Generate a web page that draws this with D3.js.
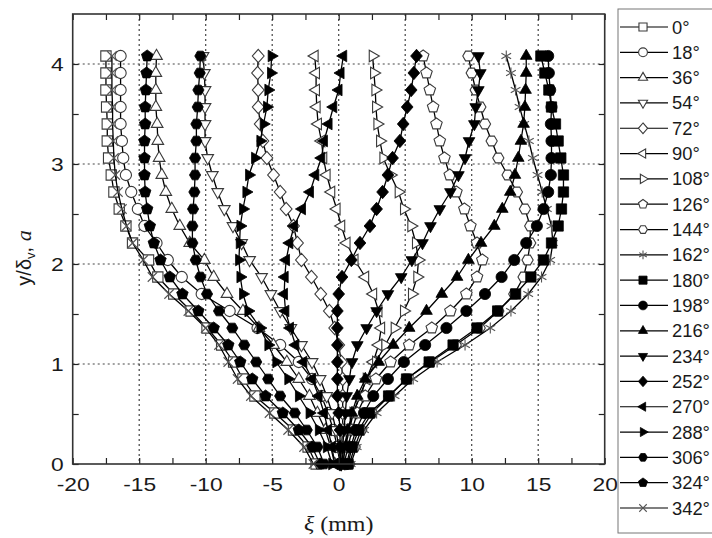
<!DOCTYPE html>
<html>
<head>
<meta charset="utf-8">
<script src="https://cdn.jsdelivr.net/npm/d3@7"></script>
<style>
  body { margin: 0; background: #fff; }
  svg { display: block; }
  text { font-family: Arial, "Liberation Sans", sans-serif; fill: #1a1a1a; }
</style>
</head>
<body>
<svg id="chart" width="712" height="538"></svg>
<script>
// heights y/δv (top to bottom) shared by every profile
const yLevels = [4.08, 3.91, 3.74, 3.57, 3.40, 3.23, 3.06, 2.89, 2.72, 2.55, 2.38, 2.21, 2.04,
                 1.87, 1.70, 1.53, 1.36, 1.19, 1.02, 0.85, 0.68, 0.51, 0.34, 0.17, 0];

// displacement ξ (mm) for each phase
const xi0   = [-17.5, -17.5, -17.5, -17.45, -17.4, -17.4, -17.3, -17.1, -16.9, -16.5, -16.0, -15.5, -14.3, -13.6, -12.4, -11.1, -9.9, -8.8, -7.9, -7.2, -6.3, -4.8, -3.4, -2.3, -1.7];
const xi18  = [-16.4, -16.4, -16.4, -16.4, -16.4, -16.3, -16.2, -16.0, -15.6, -15.1, -14.6, -13.7, -12.85, -11.8, -10.3, -8.2, -6.1, -4.4, -3.0, -2.0, -1.3, -0.8, -0.4, -0.1, 0.1];
const xi36  = [-13.7, -13.75, -13.75, -13.75, -13.65, -13.6, -13.5, -13.3, -13.0, -12.55, -11.95, -11.2, -10.1, -9.4, -8.4, -7.2, -6.0, -4.9, -3.9, -3.0, -2.2, -1.6, -1.0, -0.6, -0.3];
const xi54  = [-10.2, -10.1, -10.05, -10.05, -10.05, -10.05, -9.85, -9.5, -9.1, -8.6, -7.95, -7.3, -6.7, -5.8, -5.1, -4.4, -3.6, -2.8, -2.0, -1.4, -0.9, -0.5, -0.2, 0.0, 0.2];
const xi72  = [-6.05, -6.1, -6.05, -6.05, -5.9, -5.7, -5.4, -4.9, -4.4, -3.95, -3.4, -3.1, -2.8, -2.05, -1.35, -0.7, -0.3, 0.0, 0.2, 0.3, 0.3, 0.3, 0.3, 0.2, 0.1];
const xi90  = [-1.8, -1.7, -1.7, -1.65, -1.55, -1.3, -1.15, -0.9, -0.55, -0.15, 0.2, 0.6, 1.2, 2.0, 2.6, 3.0, 3.2, 3.0, 2.6, 2.1, 1.6, 1.1, 0.7, 0.4, 0.2];
const xi108 = [2.55, 2.65, 2.75, 2.8, 2.9, 3.1, 3.35, 3.9, 4.5, 4.9, 5.45, 5.8, 6.0, 5.9, 5.5, 4.9, 4.2, 3.5, 2.8, 2.1, 1.6, 1.1, 0.8, 0.5, 0.3];
const xi126 = [6.35, 6.6, 6.85, 7.1, 7.35, 7.6, 7.95, 8.35, 8.85, 9.45, 9.9, 10.4, 10.8, 10.4, 9.6, 8.4, 7.0, 5.3, 3.9, 2.8, 2.0, 1.4, 1.0, 0.7, 0.4];
const xi144 = [9.75, 10.0, 10.3, 10.65, 11.0, 11.5, 12.0, 12.7, 13.4, 14.0, 14.4, 14.4, 14.2, 13.9, 13.2, 12.0, 10.6, 8.8, 6.9, 5.1, 3.8, 2.5, 1.7, 1.2, 0.8];
const xi162 = [12.6, 12.95, 13.3, 13.6, 13.95, 14.3, 14.6, 14.95, 15.3, 15.65, 16.0, 16.1, 15.9, 15.25, 14.25, 12.95, 11.4, 9.5, 7.4, 5.6, 4.2, 2.85, 1.9, 1.35, 0.9];
const xi180 = [15.2, 15.5, 15.8, 16.0, 16.3, 16.5, 16.7, 16.9, 16.9, 16.75, 16.5, 16.0, 15.4, 14.45, 13.3, 11.95, 10.4, 8.6, 6.8, 5.1, 3.75, 2.3, 1.5, 1.0, 0.7];
const xi198 = [15.75, 15.8, 15.9, 16.0, 15.95, 16.0, 16.0, 15.95, 15.75, 15.4, 14.9, 14.1, 13.2, 12.25, 11.0, 9.6, 8.1, 6.5, 4.9, 3.7, 2.6, 1.9, 1.3, 0.9, 0.6];
const xi216 = [14.1, 14.1, 14.05, 14.0, 13.9, 13.7, 13.5, 13.25, 12.9, 12.3, 11.7, 10.7, 9.75, 8.9, 7.75, 6.6, 5.3, 4.1, 3.0, 2.0, 1.4, 1.0, 0.7, 0.5, 0.3];
const xi234 = [10.5, 10.65, 10.5, 10.3, 10.2, 9.8, 9.5, 9.0, 8.4, 7.6, 6.9, 6.3, 5.5, 4.7, 3.7, 2.85, 2.1, 1.4, 1.0, 0.8, 0.6, 0.5, 0.4, 0.3, 0.2];
const xi252 = [5.85, 5.65, 5.45, 5.15, 4.85, 4.6, 4.05, 3.7, 3.3, 2.85, 2.35, 1.6, 0.95, 0.25, 0.0, -0.1, -0.1, -0.1, -0.1, -0.1, -0.1, 0.0, 0.1, 0.1, 0.1];
const xi270 = [0.35, 0.15, 0.0, -0.4, -0.75, -1.1, -1.3, -1.75, -2.15, -2.75, -3.35, -3.7, -3.95, -4.05, -4.1, -4.0, -3.65, -3.25, -2.65, -2.0, -1.5, -1.1, -0.8, -0.5, -0.3];
const xi288 = [-5.05, -5.1, -5.3, -5.4, -5.65, -5.9, -6.3, -6.75, -6.95, -7.2, -7.4, -7.45, -7.5, -7.4, -7.2, -6.8, -5.9, -5.3, -4.7, -3.8, -3.0, -2.2, -1.5, -0.9, -0.5];
const xi306 = [-10.4, -10.45, -10.55, -10.6, -10.7, -10.7, -10.8, -10.8, -10.85, -10.95, -11.0, -11.0, -10.75, -10.4, -9.9, -9.0, -8.0, -7.1, -6.2, -5.3, -4.4, -3.3, -2.4, -1.6, -1.1];
const xi324 = [-14.4, -14.45, -14.5, -14.55, -14.55, -14.6, -14.6, -14.6, -14.55, -14.4, -14.2, -13.9, -13.4, -12.7, -11.75, -10.55, -9.4, -8.3, -7.4, -6.5, -5.5, -4.2, -3.0, -2.0, -1.4];
const xi342 = [-17.05, -17.05, -17.05, -17.0, -17.0, -16.95, -16.9, -16.8, -16.6, -16.3, -15.95, -15.5, -14.7, -14.0, -12.75, -11.3, -10.0, -9.0, -8.3, -7.6, -6.6, -5.2, -3.8, -2.6, -1.9];

const phaseLabels = ["0°", "18°", "36°", "54°", "72°", "90°", "108°", "126°", "144°", "162°",
                     "180°", "198°", "216°", "234°", "252°", "270°", "288°", "306°", "324°", "342°"];
const phaseSeries = [xi0, xi18, xi36, xi54, xi72, xi90, xi108, xi126, xi144, xi162,
                     xi180, xi198, xi216, xi234, xi252, xi270, xi288, xi306, xi324, xi342];

const xMajor = [-20, -15, -10, -5, 0, 5, 10, 15, 20];
const xMinor = [-17.5, -12.5, -7.5, -2.5, 2.5, 7.5, 12.5, 17.5];
const yMajor = [0, 1, 2, 3, 4];
const yMinor = [0.5, 1.5, 2.5, 3.5];

// symbol style per series
const shapes = ["square", "circle", "up", "down", "diamond", "left", "right", "pentagon", "hexagon", "star",
                "square", "circle", "up", "down", "diamond", "left", "right", "hexagon", "pentagon", "cross"];
const filled = shapes.map((s, i) => i >= 10 && i < 19);

const svg = d3.select("#chart");
const plot = { left: 72.7, right: 604.7, top: 14, bottom: 464 };
const stretch = 1.2; // the picture is a bit wider than tall

const x = d3.scaleLinear().domain([-20, 20]).range([plot.left, plot.right]);
const y = d3.scaleLinear().domain([0, 4.5]).range([plot.bottom, plot.top]);

function symbolPath(type, r) {
  const poly = (n, rad, rot) => d3.range(n).map(i => {
    const a = rot + i * 2 * Math.PI / n;
    return [rad * Math.sin(a), -rad * Math.cos(a)];
  });
  const toPath = pts => "M" + pts.map(p => p[0].toFixed(2) + "," + p[1].toFixed(2)).join("L") + "Z";
  switch (type) {
    case "square": { const s = r * 0.92; return `M${-s},${-s}H${s}V${s}H${-s}Z`; }
    case "circle": return `M${r},0A${r},${r} 0 1,1 ${-r},0A${r},${r} 0 1,1 ${r},0Z`;
    case "up": return toPath(poly(3, r * 1.2, 0));
    case "down": return toPath(poly(3, r * 1.2, Math.PI));
    case "left": return toPath(poly(3, r * 1.2, -Math.PI / 2));
    case "right": return toPath(poly(3, r * 1.2, Math.PI / 2));
    case "diamond": return `M0,${-r * 1.2}L${r * 1.05},0L0,${r * 1.2}L${-r * 1.05},0Z`;
    case "pentagon": return toPath(poly(5, r * 1.08, 0));
    case "hexagon": return toPath(poly(6, r, Math.PI / 6));
    case "star": {
      const c = r * Math.cos(Math.PI / 6), s = r * 0.5;
      return `M0,${-r}V${r}M${-c},${-s}L${c},${s}M${-c},${s}L${c},${-s}`;
    }
    case "cross": { const s = r * 0.85; return `M${-s},${-s}L${s},${s}M${-s},${s}L${s},${-s}`; }
  }
}

function styleMarker(sel, i) {
  const t = shapes[i];
  if (t === "star" || t === "cross") {
    sel.attr("fill", "none").attr("stroke", "#555").attr("stroke-width", 1.1);
  } else if (filled[i]) {
    sel.attr("fill", "#000").attr("stroke", "#000").attr("stroke-width", 0.8);
  } else {
    sel.attr("fill", "#fff").attr("stroke", "#3a3a3a").attr("stroke-width", 1.1);
  }
}

// grid
const grid = svg.append("g").attr("stroke", "#444").attr("stroke-width", 1.2).attr("stroke-dasharray", "2,3");
grid.selectAll("line.gx").data([-15, -10, -5, 0, 5, 10, 15]).join("line")
  .attr("x1", d => x(d)).attr("x2", d => x(d)).attr("y1", plot.top).attr("y2", plot.bottom);
grid.selectAll("line.gy").data([1, 2, 3, 4]).join("line")
  .attr("x1", plot.left).attr("x2", plot.right).attr("y1", d => y(d)).attr("y2", d => y(d));

// profiles
const lineGen = d3.line().x(d => x(d[0])).y(d => y(d[1]));
const series = svg.append("g");
phaseSeries.forEach((vals, i) => {
  const pts = vals.map((v, k) => [v, yLevels[k]]);
  const g = series.append("g");
  g.append("path").attr("d", lineGen(pts)).attr("fill", "none").attr("stroke", "#000").attr("stroke-width", 1.3);
  g.selectAll("path.m").data(pts).join("path").attr("class", "m")
    .attr("transform", d => `translate(${x(d[0])},${y(d[1])})`)
    .attr("d", symbolPath(shapes[i], 5.6))
    .call(styleMarker, i);
});

// axes with inward ticks
function tidy(g) {
  g.select(".domain").remove();
  g.selectAll(".tick line").attr("stroke", "#222").attr("stroke-width", 1.2);
}
const axisFont = 19;
svg.append("g").attr("transform", `translate(0,${plot.bottom})`)
  .call(d3.axisBottom(x).tickValues(xMajor).tickSize(-6).tickPadding(14).tickFormat(d3.format("d")))
  .call(tidy)
  .call(g => g.selectAll("text").attr("font-size", axisFont).attr("font-family", "Arial, 'Liberation Sans', sans-serif")
    .attr("fill", "#1a1a1a").attr("transform", `scale(${stretch},1)`).text(d => d < 0 ? "-" + Math.abs(d) : d));
svg.append("g").attr("transform", `translate(0,${plot.bottom})`)
  .call(d3.axisBottom(x).tickValues(xMinor).tickSize(-6).tickFormat("")).call(tidy);
svg.append("g").attr("transform", `translate(0,${plot.top})`)
  .call(d3.axisTop(x).tickValues(xMajor.concat(xMinor)).tickSize(-6).tickFormat("")).call(tidy);
svg.append("g").attr("transform", `translate(${plot.left},0)`)
  .call(d3.axisLeft(y).tickValues(yMajor).tickSize(-6).tickPadding(9).tickFormat(d3.format("d")))
  .call(tidy)
  .call(g => g.selectAll("text").attr("font-size", axisFont).attr("font-family", "Arial, 'Liberation Sans', sans-serif")
    .attr("fill", "#1a1a1a").attr("x", -9 / stretch).attr("transform", `scale(${stretch},1)`));
svg.append("g").attr("transform", `translate(${plot.left},0)`)
  .call(d3.axisLeft(y).tickValues(yMinor).tickSize(-6).tickFormat("")).call(tidy);
svg.append("g").attr("transform", `translate(${plot.right},0)`)
  .call(d3.axisRight(y).tickValues(yMajor.concat(yMinor)).tickSize(-6).tickFormat("")).call(tidy);

// frame
svg.append("rect").attr("x", plot.left).attr("y", plot.top)
  .attr("width", plot.right - plot.left).attr("height", plot.bottom - plot.top)
  .attr("fill", "none").attr("stroke", "#333").attr("stroke-width", 1.6);

// axis titles
svg.append("text").attr("transform", `translate(${(plot.left + plot.right) / 2},531) scale(${stretch},1)`)
  .attr("text-anchor", "middle").attr("font-size", 20)
  .style("font-family", "'Liberation Serif', 'Times New Roman', serif")
  .call(t => {
    t.append("tspan").attr("font-style", "italic").text("ξ");
    t.append("tspan").text(" (mm)");
  });
svg.append("text").attr("transform", "translate(31,258) rotate(-90)")
  .attr("text-anchor", "middle").attr("font-size", 20)
  .call(t => {
    t.append("tspan").text("y/δ");
    t.append("tspan").attr("font-size", 13).attr("dy", 4).text("v");
    t.append("tspan").attr("dy", -4).text(", ");
    t.append("tspan").attr("font-style", "italic").style("font-family", "'Liberation Serif', serif").attr("font-size", 22).text("a");
  });

// legend (reaches the right edge of the picture)
const leg = svg.append("g");
leg.append("rect").attr("x", 618).attr("y", 9).attr("width", 120).attr("height", 524)
  .attr("fill", "#fff").attr("stroke", "#777").attr("stroke-width", 1);
const rowY = d3.scaleLinear().domain([0, 19]).range([27, 508]);
phaseLabels.forEach((lab, i) => {
  const g = leg.append("g").attr("transform", `translate(0,${rowY(i)})`);
  g.append("line").attr("x1", 620).attr("x2", 668).attr("stroke", "#000").attr("stroke-width", 1.2);
  g.append("path").attr("transform", "translate(643,0)").attr("d", symbolPath(shapes[i], 4.4)).call(styleMarker, i);
  g.append("text").attr("transform", "translate(672,6.5) scale(1.02,1)").attr("font-size", 18).text(lab);
});
</script>
</body>
</html>
